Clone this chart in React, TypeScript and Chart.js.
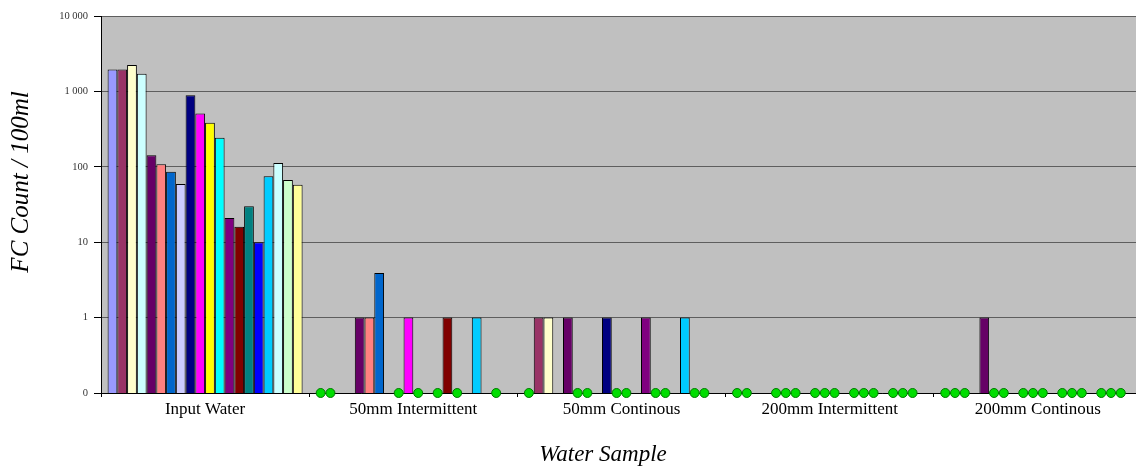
import React, { useEffect, useRef } from "react";
import { Chart, registerables } from "chart.js";

Chart.register(...registerables);

// ---- data ----
const categories = ["Input Water", "50mm Intermittent", "50mm Continous", "200mm Intermittent", "200mm Continous"];

// null = no sample, 0 = zero count (green marker on the axis)
const series01 = [1950, 0, 0, 0, 0];
const series02 = [1950, 0, 1, 0, 0];
const series03 = [2240, null, 1, null, 0];
const series04 = [1720, null, null, null, null];
const series05 = [142, 1, 1, 0, 1];
const series06 = [108, 1, 0, 0, 0];
const series07 = [86, 3.9, 0, 0, 0];
const series08 = [59, null, null, null, null];
const series09 = [890, 0, 1, 0, 0];
const series10 = [510, 1, 0, 0, 0];
const series11 = [385, 0, 0, 0, 0];
const series12 = [243, null, null, null, null];
const series13 = [21, 0, 1, 0, 0];
const series14 = [16, 1, 0, 0, 0];
const series15 = [30, 0, 0, 0, 0];
const series16 = [10, null, null, null, null];
const series17 = [75, 1, 1, 0, 0];
const series18 = [112, null, 0, 0, 0];
const series19 = [67, 0, 0, 0, 0];
const series20 = [58, null, null, null, null];

const allSeries = [
  series01, series02, series03, series04, series05, series06, series07, series08, series09, series10,
  series11, series12, series13, series14, series15, series16, series17, series18, series19, series20,
];

const seriesColors = [
  "#9999FF", "#993366", "#FFFFCC", "#CCFFFF", "#660066", "#FF8080", "#0066CC", "#CCCCFF", "#000080", "#FF00FF",
  "#FFFF00", "#00FFFF", "#800080", "#800000", "#008080", "#0000FF", "#00CCFF", "#CCFFFF", "#CCFFCC", "#FFFF99",
];

const yTickValues = [0.1, 1, 10, 100, 1000, 10000];
const yTickLabels = ["0", "1", "10", "100", "1 000", "10 000"];

const yTitle = "FC Count / 100ml";
const xTitle = "Water Sample";

const SERIF = "'Liberation Serif', 'DejaVu Serif', serif";

const plotBackground = {
  id: "plotBackground",
  beforeDraw(chart: any) {
    const { ctx, chartArea } = chart;
    ctx.save();
    ctx.fillStyle = "#C0C0C0";
    ctx.fillRect(chartArea.left, chartArea.top, chartArea.right - chartArea.left, chartArea.bottom - chartArea.top);
    ctx.restore();
  },
};

const zeroMarkers = {
  id: "zeroMarkers",
  afterDatasetsDraw(chart: any) {
    const { ctx } = chart;
    const yScale = chart.scales.y;
    const yPix = yScale.getPixelForValue(yTickValues[0]);
    ctx.save();
    allSeries.forEach((vals, di) => {
      const meta = chart.getDatasetMeta(di);
      vals.forEach((v, i) => {
        if (v === 0 && meta.data[i]) {
          const x = meta.data[i].x;
          ctx.beginPath();
          ctx.arc(x, yPix, 4.5, 0, Math.PI * 2);
          ctx.fillStyle = "#00DD00";
          ctx.fill();
          ctx.lineWidth = 1;
          ctx.strokeStyle = "#007A00";
          ctx.stroke();
        }
      });
    });
    ctx.restore();
  },
};

const axisTitles = {
  id: "axisTitles",
  afterDraw(chart: any) {
    const { ctx } = chart;
    ctx.save();
    ctx.fillStyle = "#000";
    ctx.textAlign = "center";
    ctx.textBaseline = "middle";
    ctx.font = `italic 23px ${SERIF}`;
    ctx.fillText(xTitle, 603, 455);
    ctx.font = `italic 25px ${SERIF}`;
    ctx.translate(21, 182);
    ctx.rotate(-Math.PI / 2);
    ctx.fillText(yTitle, 0, 0);
    ctx.restore();
  },
};

export default function App() {
  const canvasRef = useRef<HTMLCanvasElement | null>(null);

  useEffect(() => {
    if (!canvasRef.current) return;
    const chart = new Chart(canvasRef.current, {
      type: "bar",
      data: {
        labels: categories,
        datasets: allSeries.map((vals, i) => ({
          label: `Series ${i + 1}`,
          data: vals.map((v) => (v !== null && v > 0 ? v : null)),
          backgroundColor: seriesColors[i],
          borderColor: "#000000",
          borderWidth: 1,
          categoryPercentage: 0.9366,
          barPercentage: 1.0,
        })),
      },
      options: {
        responsive: false,
        animation: false,
        events: [],
        layout: { padding: { left: 0, top: 16, right: 4, bottom: 0 } },
        plugins: {
          legend: { display: false },
          tooltip: { enabled: false },
          title: { display: false },
        },
        scales: {
          x: {
            type: "category",
            offset: true,
            grid: {
              display: true,
              drawOnChartArea: false,
              drawTicks: true,
              tickLength: 4,
              tickColor: "#000",
              offset: true,
            },
            border: { display: true, color: "#000", width: 1 },
            ticks: {
              color: "#000",
              font: { family: SERIF, size: 17 },
              padding: 2,
              maxRotation: 0,
              autoSkip: false,
            },
            afterFit(scale: any) {
              scale.height = 75;
            },
          },
          y: {
            type: "logarithmic",
            min: 0.1,
            max: 10000,
            grid: {
              color: "#5E5E5E",
              lineWidth: 1,
              tickColor: "#000",
              tickLength: 7,
            },
            border: { display: true, color: "#000", width: 1 },
            ticks: {
              color: "#333",
              font: { family: SERIF, size: 10.5 },
              padding: 6,
              autoSkip: false,
              callback: (value: any) => {
                const idx = yTickValues.findIndex((t) => Math.abs(t - Number(value)) < 1e-9);
                return idx >= 0 ? yTickLabels[idx] : "";
              },
            },
            afterBuildTicks(scale: any) {
              scale.ticks = yTickValues.map((v) => ({ value: v, major: false }));
            },
            afterFit(scale: any) {
              scale.width = 101;
            },
          },
        },
      },
      plugins: [plotBackground, zeroMarkers, axisTitles],
    } as any);
    return () => chart.destroy();
  }, []);

  return (
    <div
      style={{
        position: "fixed",
        left: 0,
        top: 0,
        width: 1136,
        height: 468,
        overflow: "hidden",
        background: "#fff",
      }}
    >
      <canvas ref={canvasRef} width={1146} height={468} style={{ display: "block" }} />
    </div>
  );
}
